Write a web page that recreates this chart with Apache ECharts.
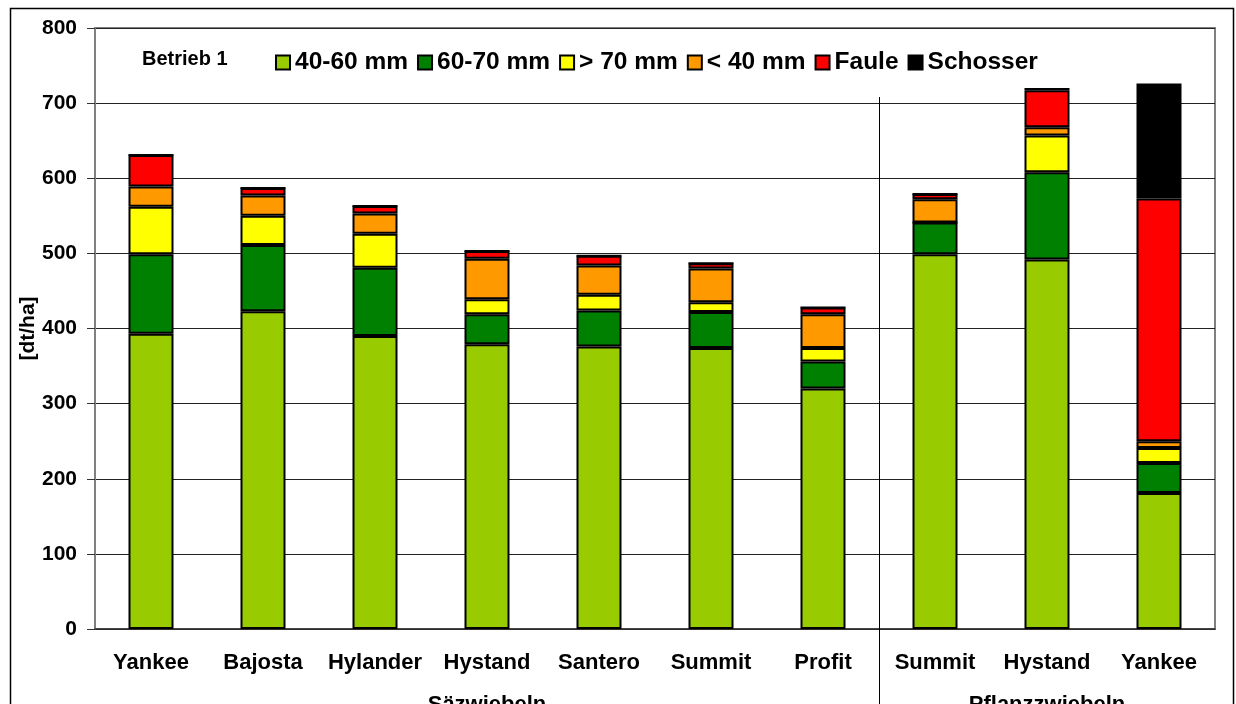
<!DOCTYPE html>
<html>
<head>
<meta charset="utf-8">
<script src="https://cdn.jsdelivr.net/npm/echarts@6/dist/echarts.min.js"></script>
<style>
html, body { margin: 0; padding: 0; background: #fff; }
#main { width: 1236px; height: 704px; }
</style>
</head>
<body>
<div id="main"></div>
<script>
var categories = ['Yankee', 'Bajosta', 'Hylander', 'Hystand', 'Santero', 'Summit', 'Profit', 'Summit', 'Hystand', 'Yankee'];
var groups = [{ name: 'Säzwiebeln', count: 7 }, { name: 'Pflanzzwiebeln', count: 3 }];

var mm4060 = [393, 423, 390, 379, 376, 374, 320, 499, 492, 181];
var mm6070 = [106, 88, 91, 40, 48, 48, 36, 42, 116, 40];
var gt70 = [63, 39, 45, 20, 21, 13, 18, 0, 49, 20];
var lt40 = [27, 27, 27, 54, 39, 45, 45, 31, 11, 9];
var faule = [42, 10, 10, 10, 13, 7, 9, 7, 49, 323];
var schosser = [0, 0, 0, 0, 0, 0, 0, 0, 3, 153];

var yTicks = { min: 0, max: 800, interval: 100 };

var font = 'Arial, "Liberation Sans", sans-serif';

// group label sits on the middle category of each group
var groupLabels = [];
groups.forEach(function (g) {
    for (var i = 0; i < g.count; i++) {
        groupLabels.push(i === Math.floor(g.count / 2) ? g.name : '');
    }
});

function bar(name, data, color) {
    return {
        name: name,
        type: 'bar',
        stack: 'total',
        barWidth: 45,
        data: data,
        itemStyle: { color: color, borderColor: '#000', borderWidth: 2 }
    };
}

var myChart = echarts.init(document.getElementById('main'));

var option = {
    animation: false,
    backgroundColor: '#fff',
    title: {
        text: 'Betrieb 1',
        left: 137,
        top: 44,
        textStyle: { fontFamily: font, fontSize: 20, fontWeight: 'bold', color: '#000' }
    },
    legend: {
        left: 275,
        top: 50,
        padding: 0,
        itemWidth: 14,
        itemHeight: 14,
        itemGap: 9,
        icon: 'rect',
        textStyle: { fontFamily: font, fontSize: 24.5, fontWeight: 'bold', color: '#000' },
        data: ['40-60 mm', '60-70 mm', '> 70 mm', '< 40 mm', 'Faule', 'Schosser']
    },
    grid: {
        left: 95,
        right: 21,
        top: 28,
        bottom: 75,
        containLabel: false,
        outerBoundsMode: 'none',
        show: true,
        borderColor: '#808080',
        borderWidth: 2
    },
    xAxis: [
        {
            type: 'category',
            data: categories,
            axisLine: { lineStyle: { color: '#333', width: 1.5 } },
            axisTick: { length: 5, interval: 0, lineStyle: { color: '#333' } },
            axisLabel: { interval: 0, margin: 23, fontFamily: font, fontSize: 22, fontWeight: 'bold', color: '#000' }
        },
        {
            type: 'category',
            position: 'bottom',
            data: groupLabels,
            axisLine: { show: false },
            axisTick: { show: false },
            axisLabel: { interval: 0, margin: 65, fontFamily: font, fontSize: 22, fontWeight: 'bold', color: '#000' }
        }
    ],
    yAxis: {
        type: 'value',
        min: yTicks.min,
        max: yTicks.max,
        interval: yTicks.interval,
        name: '[dt/ha]',
        nameLocation: 'middle',
        nameGap: 56,
        nameMoveOverlap: false,
        nameTextStyle: { fontFamily: font, fontSize: 21, fontWeight: 'bold', color: '#000' },
        axisLine: { show: true, lineStyle: { color: '#808080', width: 2 } },
        axisTick: { show: true, length: 8, lineStyle: { color: '#333' } },
        axisLabel: { margin: 18, fontFamily: font, fontSize: 21, fontWeight: 'bold', color: '#000' },
        splitLine: { lineStyle: { color: '#222', width: 1 } }
    },
    series: [
        bar('40-60 mm', mm4060, '#99CC00'),
        bar('60-70 mm', mm6070, '#008000'),
        bar('> 70 mm', gt70, '#FFFF00'),
        bar('< 40 mm', lt40, '#FF9900'),
        bar('Faule', faule, '#FF0000'),
        bar('Schosser', schosser, '#000000')
    ]
};

myChart.setOption(option);

// separator between the two groups + outer frame
var sepX = (myChart.convertToPixel({ xAxisIndex: 0 }, groups[0].count - 1) +
            myChart.convertToPixel({ xAxisIndex: 0 }, groups[0].count)) / 2;
sepX = Math.round(sepX) + 0.5;
myChart.setOption({
    graphic: [
        {
            type: 'line',
            shape: { x1: sepX, y1: 97, x2: sepX, y2: 704 },
            style: { stroke: '#000', lineWidth: 1 },
            z: 10
        },
        {
            type: 'rect',
            shape: { x: 10.5, y: 8.5, width: 1223, height: 710 },
            style: { fill: 'none', stroke: '#000', lineWidth: 1.5 },
            z: 10
        }
    ]
});
</script>
</body>
</html>
